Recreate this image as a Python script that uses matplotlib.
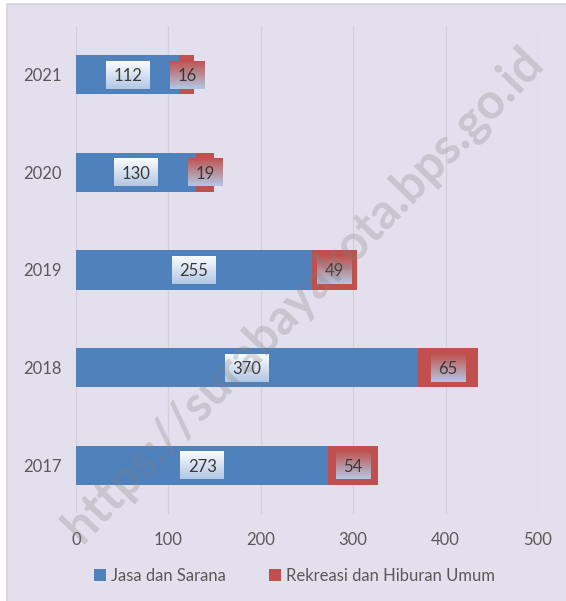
import numpy as np
import matplotlib
matplotlib.use("Agg")
import matplotlib.pyplot as plt
from matplotlib.patches import Rectangle

plt.rcParams['font.family'] = ['Lato', 'DejaVu Sans']

years = ['2017', '2018', '2019', '2020', '2021']
jasa = [273, 370, 255, 130, 112]
rekreasi = [54, 65, 49, 19, 16]
xticks = [0, 100, 200, 300, 400, 500]

blue = '#4F81BD'
red = '#C0504D'
txt = '#595959'

fig = plt.figure(figsize=(5.66, 6.01), dpi=100)
fig.patch.set_facecolor('white')
fig.patches.append(Rectangle((7 / 566, -0.01), 1.0, 1 - 4 / 601 + 0.01,
                             transform=fig.transFigure, facecolor='#E4DFEC',
                             edgecolor='#D4D2D8', linewidth=1.2, zorder=-10))

ax = fig.add_axes([76 / 566, 1 - 514 / 601, (538 - 76) / 566, (514 - 26) / 601])
ax.set_facecolor('none')

y = np.arange(len(years))
ax.barh(y, jasa, height=0.4, color=blue, zorder=2, label='Jasa dan Sarana')
ax.barh(y, rekreasi, left=jasa, height=0.4, color=red, zorder=2,
        label='Rekreasi dan Hiburan Umum')

ax.set_xlim(0, 500)
ax.set_ylim(-0.5, len(years) - 0.5)
ax.set_xticks(xticks)
ax.set_yticks(y)
ax.set_yticklabels(years)
ax.tick_params(length=0, labelsize=12, labelcolor=txt, pad=10)
ax.tick_params(axis='x', pad=13)
ax.grid(axis='x', color='#D4D0DA', linewidth=1, zorder=0)
for s in ax.spines.values():
    s.set_visible(False)

# data labels
labels = []
for i in range(len(years)):
    t1 = ax.text(jasa[i] / 2, y[i], str(jasa[i]), ha='center', va='center_baseline',
                 fontsize=12, color='#3A3A3A', zorder=5)
    t2 = ax.text(jasa[i] + rekreasi[i] / 2, y[i], str(rekreasi[i]), ha='center',
                 va='center_baseline', fontsize=12, color='#3A3A3A', zorder=5)
    labels.append((t1, 'blue'))
    labels.append((t2, 'red'))

fig.canvas.draw()
r = fig.canvas.get_renderer()
inv = ax.transData.inverted()
bottom_c = np.array([0.70, 0.78, 0.89])
for t, kind in labels:
    bb = t.get_window_extent(r)
    cx = (bb.x0 + bb.x1) / 2
    cy = ax.transData.transform((0, t.get_position()[1]))[1]
    w = bb.width + 15
    h = 28
    if kind == 'blue':
        top_c = np.array([0.98, 0.99, 1.0])
    else:
        top_c = np.array([0.75, 0.33, 0.32])
    f = np.linspace(0, 1, 40)[:, None, None]
    grad = top_c * (1 - f) + bottom_c * f
    grad = np.repeat(grad, 4, axis=1)
    (x0, y0) = inv.transform((cx - w / 2, cy - h / 2))
    (x1, y1) = inv.transform((cx + w / 2, cy + h / 2))
    ax.imshow(grad, extent=[x0, x1, y0, y1], aspect='auto', zorder=4,
              origin='upper', interpolation='bilinear')

ax.set_xlim(0, 500)
ax.set_ylim(-0.5, len(years) - 0.5)

fig.legend(loc='center', bbox_to_anchor=(0.52, 0.042), ncol=2, frameon=False,
           handlelength=0.7, handleheight=0.7, handletextpad=0.3,
           columnspacing=2.6, fontsize=12, labelcolor=txt)

fig.text(0.535, 0.51, 'https://surabayakota.bps.go.id', rotation=46,
         ha='center', va='center', fontsize=35, fontweight='bold',
         color='#7F7F7F', alpha=0.27, zorder=10)

fig.savefig('out.png', dpi=100)
